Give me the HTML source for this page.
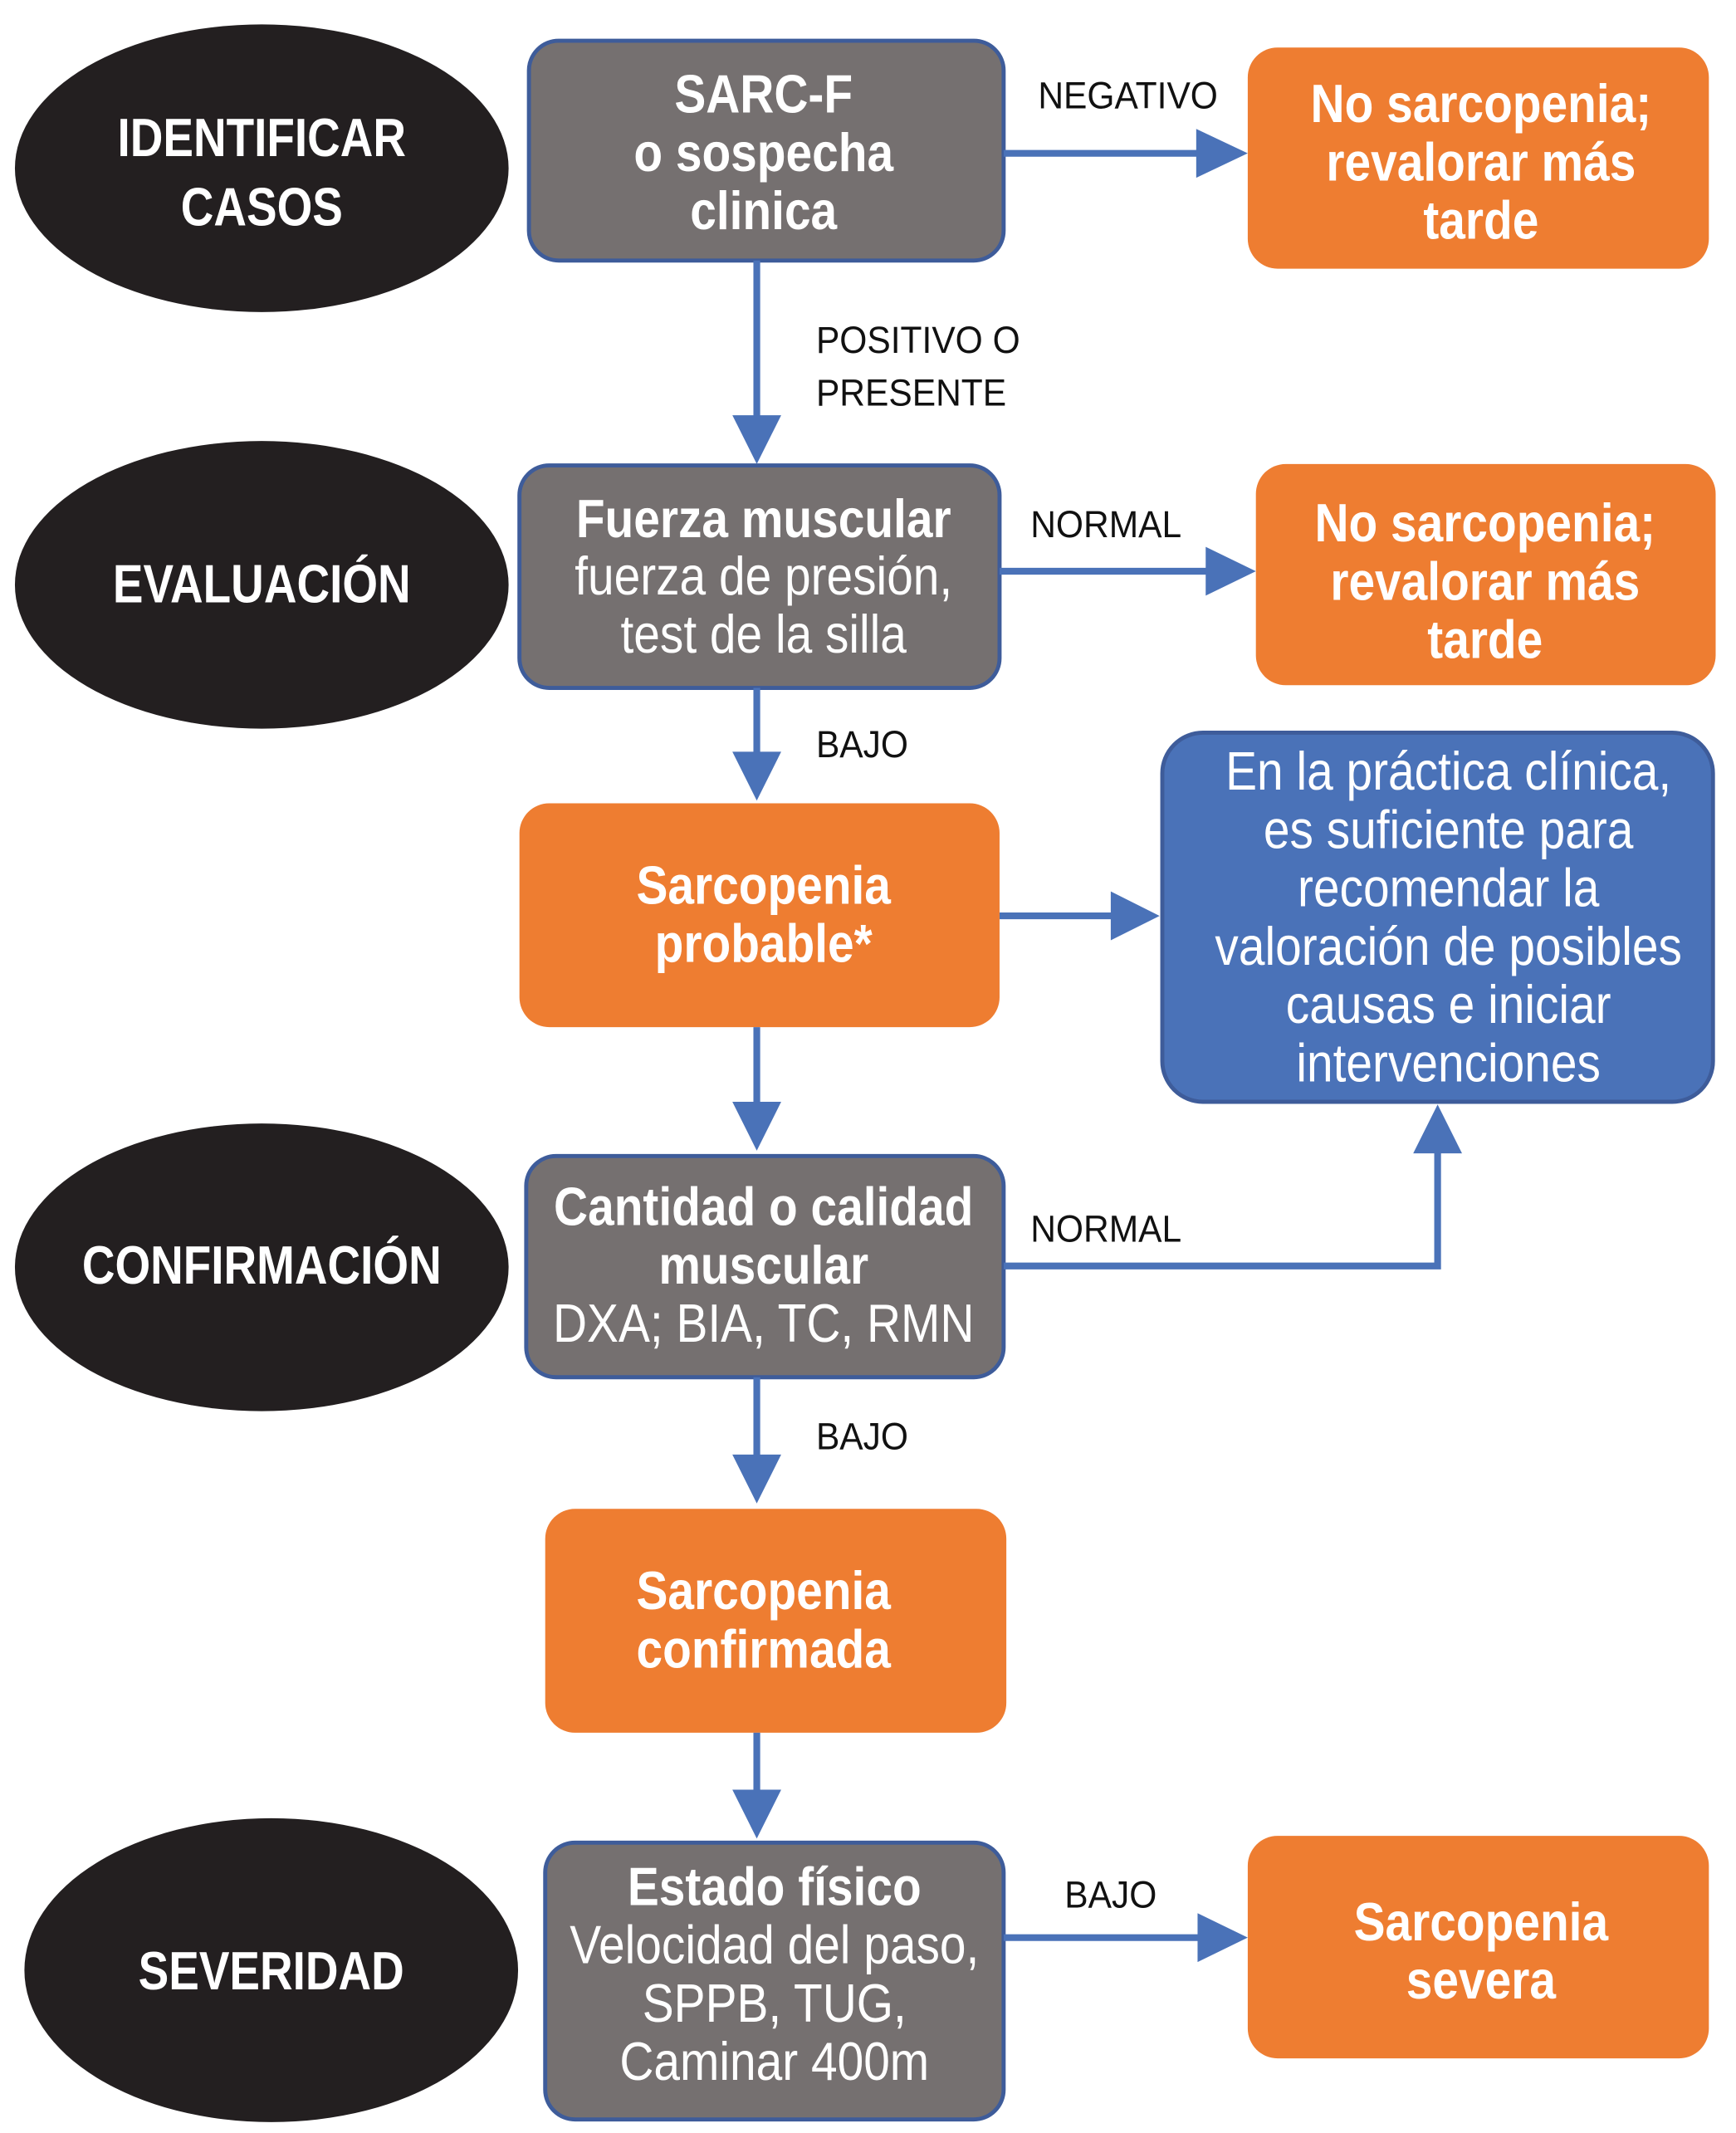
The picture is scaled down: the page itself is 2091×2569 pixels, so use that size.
<!DOCTYPE html>
<html><head><meta charset="utf-8"><style>
html,body{margin:0;padding:0;background:#fff}
svg{display:block}
text{font-family:"Liberation Sans Narrow","Liberation Sans",sans-serif;text-anchor:middle}
.w{fill:#fff;font-weight:bold;font-size:40px}
.n{fill:#fff;font-size:40px}
.l{fill:#111;font-size:28px;text-anchor:start}
.g{fill:#757070;stroke:#3e5c9a;stroke-width:3}
.o{fill:#ee7d31}
.b{fill:#4a72b8;stroke:#3e5c9a;stroke-width:3}
.ln{stroke:#4a72b8;stroke-width:5;fill:none}
.ah{fill:#4a72b8}
</style></head><body>
<svg width="2091" height="2569" viewBox="0 0 1280 1572" preserveAspectRatio="none" xmlns="http://www.w3.org/2000/svg">
<rect width="1280" height="1572" fill="#fff"/>
<ellipse cx="193" cy="124" rx="182" ry="106" fill="#231f20"/>
<ellipse cx="193" cy="431" rx="182" ry="106" fill="#231f20"/>
<ellipse cx="193" cy="934" rx="182" ry="106" fill="#231f20"/>
<ellipse cx="200" cy="1452" rx="182" ry="112" fill="#231f20"/>
<rect class="g" x="390" y="30" width="350" height="162" rx="22"/>
<rect class="o" x="920" y="35" width="340" height="163" rx="22"/>
<rect class="g" x="383" y="343" width="354" height="164" rx="22"/>
<rect class="o" x="926" y="342" width="339" height="163" rx="22"/>
<rect class="o" x="383" y="592" width="354" height="165" rx="22"/>
<rect class="b" x="857" y="540" width="406" height="272" rx="30"/>
<rect class="g" x="388" y="852" width="352" height="163" rx="22"/>
<rect class="o" x="402" y="1112" width="340" height="165" rx="22"/>
<rect class="g" x="402" y="1358" width="338" height="204" rx="22"/>
<rect class="o" x="920" y="1353" width="340" height="164" rx="22"/>
<line class="ln" x1="740" y1="113" x2="885" y2="113"/><polygon class="ah" points="882,95 920,113 882,131"/>
<line class="ln" x1="558" y1="192" x2="558" y2="310"/><polygon class="ah" points="540,306 558,342 576,306"/>
<line class="ln" x1="737" y1="421" x2="892" y2="421"/><polygon class="ah" points="889,403 926,421 889,439"/>
<line class="ln" x1="558" y1="507" x2="558" y2="558"/><polygon class="ah" points="540,554 558,590 576,554"/>
<line class="ln" x1="737" y1="675" x2="822" y2="675"/><polygon class="ah" points="819,657 855,675 819,693"/>
<line class="ln" x1="558" y1="757" x2="558" y2="816"/><polygon class="ah" points="540,812 558,848 576,812"/>
<polyline class="ln" points="740,933 1060,933 1060,846"/><polygon class="ah" points="1042,850 1060,814 1078,850"/>
<line class="ln" x1="558" y1="1015" x2="558" y2="1076"/><polygon class="ah" points="540,1072 558,1108 576,1072"/>
<line class="ln" x1="558" y1="1277" x2="558" y2="1323"/><polygon class="ah" points="540,1319 558,1355 576,1319"/>
<line class="ln" x1="740" y1="1428" x2="886" y2="1428"/><polygon class="ah" points="883,1410 920,1428 883,1446"/>
<g transform="matrix(0.84,0,0,1,30.88,0)"><text class="w" x="193" y="115">IDENTIFICAR</text><text class="w" x="193" y="166">CASOS</text><text class="w" x="193" y="444">EVALUACIÓN</text><text class="w" x="193" y="946">CONFIRMACIÓN</text></g>
<g transform="matrix(0.84,0,0,1,32,0)"><text class="w" x="200" y="1466">SEVERIDAD</text></g>
<g transform="matrix(0.87,0,0,1,73.19,0)">
<text class="w" x="563" y="83">SARC-F</text><text class="w" x="563" y="126">o sospecha</text><text class="w" x="563" y="169">clinica</text>
<text class="w" x="563" y="396">Fuerza muscular</text><text class="n" x="563" y="438">fuerza de presión,</text><text class="n" x="563" y="481">test de la silla</text>
<text class="w" x="563" y="666">Sarcopenia</text><text class="w" x="563" y="709">probable*</text>
<text class="w" x="563" y="903">Cantidad o calidad</text><text class="w" x="563" y="946">muscular</text><text class="n" x="563" y="989">DXA; BIA, TC, RMN</text>
<text class="w" x="563" y="1186">Sarcopenia</text><text class="w" x="563" y="1229">confirmada</text>
</g>
<g transform="matrix(0.87,0,0,1,74.23,0)">
<text class="w" x="571" y="1404">Estado físico</text><text class="n" x="571" y="1447">Velocidad del paso,</text><text class="n" x="571" y="1490">SPPB, TUG,</text><text class="n" x="571" y="1533">Caminar 400m</text>
</g>
<g transform="matrix(0.87,0,0,1,141.96,0)">
<text class="w" x="1092" y="90">No sarcopenia;</text><text class="w" x="1092" y="133">revalorar más</text><text class="w" x="1092" y="176">tarde</text>
<text class="w" x="1092" y="1430">Sarcopenia</text><text class="w" x="1092" y="1473">severa</text>
</g>
<g transform="matrix(0.87,0,0,1,142.35,0)">
<text class="w" x="1095" y="399">No sarcopenia;</text><text class="w" x="1095" y="442">revalorar más</text><text class="w" x="1095" y="485">tarde</text>
</g>
<g transform="matrix(0.87,0,0,1,138.84,0)">
<text class="n" x="1068" y="582">En la práctica clínica,</text><text class="n" x="1068" y="625">es suficiente para</text><text class="n" x="1068" y="668">recomendar la</text><text class="n" x="1068" y="711">valoración de posibles</text><text class="n" x="1068" y="754">causas e iniciar</text><text class="n" x="1068" y="797">intervenciones</text>
</g>
<g transform="matrix(0.93,0,0,1,0,0)">
<text class="l" x="823" y="80">NEGATIVO</text>
<text class="l" x="647" y="260">POSITIVO O</text><text class="l" x="647" y="299">PRESENTE</text>
<text class="l" x="817" y="396">NORMAL</text>
<text class="l" x="647" y="558">BAJO</text>
<text class="l" x="817" y="915">NORMAL</text>
<text class="l" x="647" y="1068">BAJO</text>
<text class="l" x="844" y="1406">BAJO</text>
</g>
</svg>
</body></html>
